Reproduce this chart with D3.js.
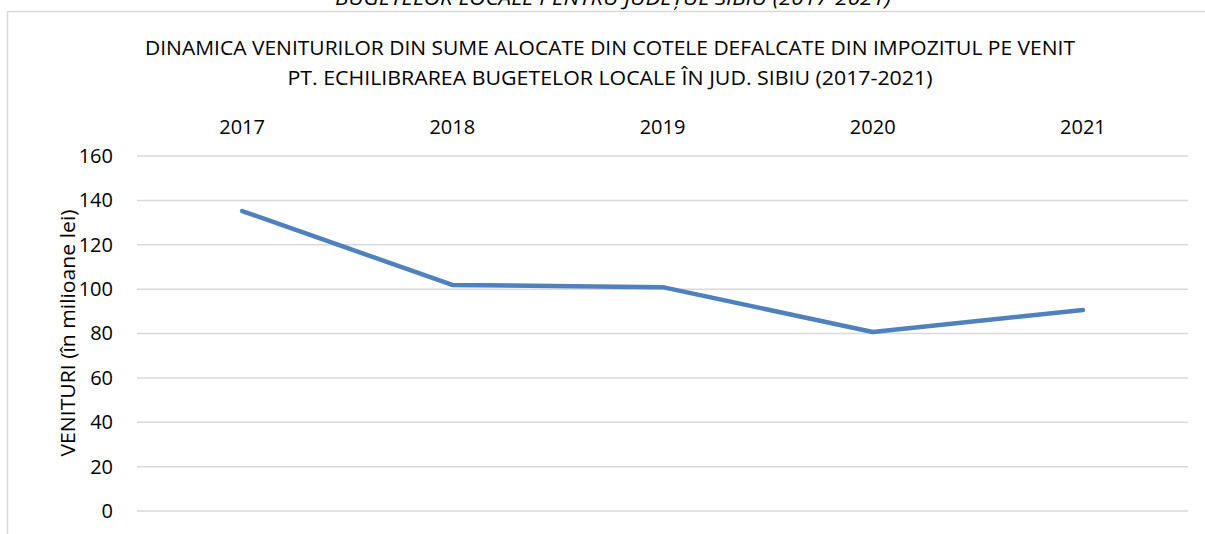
<!DOCTYPE html>
<html>
<head>
<meta charset="utf-8">
<script src="https://cdn.jsdelivr.net/npm/d3@7"></script>
<style>
  body { margin: 0; background: #fff; }
  svg { display: block; font-family: "Open Sans", sans-serif; }
</style>
</head>
<body>
<div id="chart"></div>
<script>
const years = ['2017', '2018', '2019', '2020', '2021'];
const venituri = [135.2, 101.9, 100.9, 80.7, 90.6];
const yTicks = [0, 20, 40, 60, 80, 100, 120, 140, 160];

const width = 1205, height = 534;
const margin = { left: 137, right: 17, top: 156, bottom: 23 };

const svg = d3.select('#chart')
    .append('svg')
    .attr('width', width)
    .attr('height', height);

// clipped caption above the chart box
svg.append('text')
    .text('BUGETELOR LOCALE PENTRU JUDEȚUL SIBIU (2017-2021)')
    .attr('x', 613)
    .attr('y', 5)
    .attr('text-anchor', 'middle')
    .attr('font-style', 'italic')
    .attr('font-size', '20px')
    .attr('textLength', 556)
    .attr('lengthAdjust', 'spacingAndGlyphs')
    .attr('fill', '#000');

// chart area border
svg.append('rect')
    .attr('x', 7.5)
    .attr('y', 11.5)
    .attr('width', width)
    .attr('height', height)
    .attr('fill', 'none')
    .attr('stroke', '#d9d9d9')
    .attr('stroke-width', 1.5);

const xScale = d3.scaleBand()
    .domain(years)
    .range([margin.left, width - margin.right]);

const yScale = d3.scaleLinear()
    .domain([0, 160])
    .range([height - margin.bottom, margin.top]);

// gridlines
svg.append('g')
    .selectAll('line')
    .data(yTicks)
    .join('line')
        .attr('x1', margin.left)
        .attr('x2', width - margin.right)
        .attr('y1', d => yScale(d))
        .attr('y2', d => yScale(d))
        .attr('stroke', '#d9d9d9')
        .attr('stroke-width', 1.5);

// titles
const titleLines = [
    { t: 'DINAMICA VENITURILOR DIN SUME ALOCATE DIN COTELE DEFALCATE DIN IMPOZITUL PE VENIT', y: 55, w: 930 },
    { t: 'PT. ECHILIBRAREA BUGETELOR LOCALE ÎN JUD. SIBIU (2017-2021)', y: 85, w: 645 }
];
svg.selectAll('.title')
    .data(titleLines)
    .join('text')
    .attr('class', 'title')
    .attr('x', 610)
    .attr('y', d => d.y)
    .attr('text-anchor', 'middle')
    .attr('font-size', '20px')
    .attr('textLength', d => d.w)
    .attr('lengthAdjust', 'spacingAndGlyphs')
    .attr('fill', '#000')
    .text(d => d.t);

// top category axis
const topAxis = d3.axisTop(xScale).tickSize(0).tickPadding(0);
svg.append('g')
    .attr('transform', 'translate(0, 134)')
    .call(topAxis)
    .call(g => g.select('.domain').remove())
    .selectAll('text')
        .attr('font-family', '"Open Sans", sans-serif')
        .attr('font-size', '20px')
        .attr('fill', '#000');

// left value axis
const leftAxis = d3.axisLeft(yScale).tickValues(yTicks).tickSize(0).tickPadding(24);
svg.append('g')
    .attr('transform', `translate(${margin.left}, 0)`)
    .call(leftAxis)
    .call(g => g.select('.domain').remove())
    .selectAll('text')
        .attr('font-family', '"Open Sans", sans-serif')
        .attr('font-size', '20px')
        .attr('fill', '#000');

svg.append('text')
    .text('VENITURI (în milioane lei)')
    .attr('text-anchor', 'middle')
    .attr('transform', 'rotate(-90)')
    .attr('x', -333)
    .attr('y', 75)
    .attr('font-size', '20px')
    .attr('textLength', 247)
    .attr('lengthAdjust', 'spacingAndGlyphs')
    .attr('fill', '#000');

// line
const line = d3.line()
    .x((d, i) => xScale(years[i]) + xScale.bandwidth() / 2)
    .y(d => yScale(d));

svg.append('path')
    .datum(venituri)
    .attr('d', line)
    .attr('fill', 'none')
    .attr('stroke', '#4f81bd')
    .attr('stroke-width', 4.5)
    .attr('stroke-linecap', 'round')
    .attr('stroke-linejoin', 'round');
</script>
</body>
</html>
